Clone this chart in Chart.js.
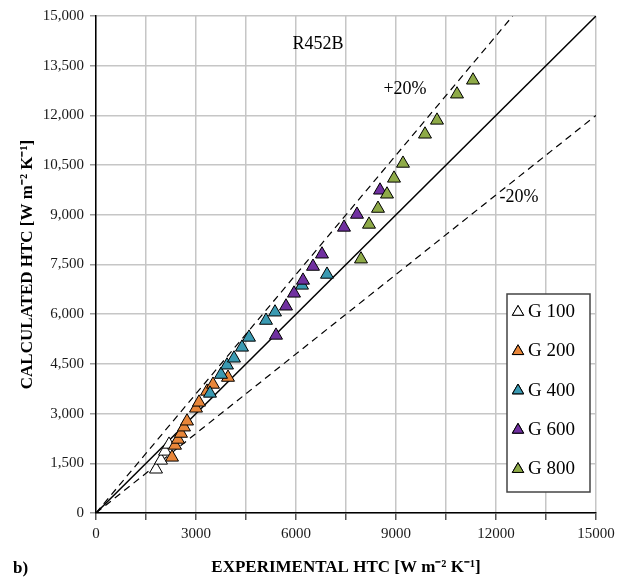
<!DOCTYPE html>
<html>
<head>
<meta charset="utf-8">
<script src="https://cdn.jsdelivr.net/npm/chart.js@4.4.1/dist/chart.umd.min.js"></script>
<style>
  html, body { margin: 0; padding: 0; background: #fff; }
  #wrap { width: 640px; height: 586px; position: relative; }
</style>
</head>
<body>
<div id="wrap"><canvas id="chart"></canvas></div>
<script>
// experimental HTC (x) vs calculated HTC (y), W m-2 K-1
const g100x = [1800, 1950, 2070, 2190];
const g100y = [1320, 1590, 1860, 2070];
const g200x = [2280, 2370, 2460, 2550, 2640, 2730, 3000, 3090, 3330, 3510, 3960];
const g200y = [1680, 2040, 2220, 2400, 2590, 2770, 3160, 3340, 3670, 3880, 4090];
const g400x = [3420, 3750, 3930, 4140, 4380, 4590, 5100, 5370, 6180, 6930];
const g400y = [3610, 4180, 4460, 4670, 5000, 5300, 5810, 6060, 6870, 7200];
const g600x = [5400, 5700, 5940, 6210, 6510, 6780, 7440, 7830, 8520];
const g600y = [5360, 6240, 6630, 7020, 7440, 7810, 8620, 9010, 9740];
const g800x = [7950, 8190, 8460, 8730, 8940, 9210, 9870, 10230, 10830, 11310];
const g800y = [7660, 8710, 9190, 9620, 10100, 10550, 11430, 11850, 12640, 13060];

const seriesNames = ["G 100", "G 200", "G 400", "G 600", "G 800"];
const seriesColors = ["#ffffff", "#e8863a", "#3a9ab2", "#7030a0", "#8eaa48"];

const axisMax = 15000;
const yTicks = [0, 1500, 3000, 4500, 6000, 7500, 9000, 10500, 12000, 13500, 15000];

function pairs(xs, ys) {
    return xs.map((x, i) => ({ x: x, y: ys[i] }));
}

const pointSets = [pairs(g100x, g100y), pairs(g200x, g200y), pairs(g400x, g400y), pairs(g600x, g600y), pairs(g800x, g800y)];

const datasets = pointSets.map((d, i) => ({
    label: seriesNames[i],
    data: d,
    backgroundColor: seriesColors[i],
    borderColor: "#000",
    borderWidth: 1,
    pointStyle: "triangle",
    pointRadius: 7.5,
    order: 5 - i
}));

// y = x and +/-20% bands
datasets.push({
    label: "line",
    data: [{ x: 0, y: 0 }, { x: axisMax, y: axisMax }],
    showLine: true, borderColor: "#000", borderWidth: 1.5, pointRadius: 0, order: 10
});
datasets.push({
    label: "+20",
    data: [{ x: 0, y: 0 }, { x: axisMax / 1.2, y: axisMax }],
    showLine: true, borderColor: "#000", borderWidth: 1.2, borderDash: [7, 5], pointRadius: 0, order: 10
});
datasets.push({
    label: "-20",
    data: [{ x: 0, y: 0 }, { x: axisMax, y: axisMax * 0.8 }],
    showLine: true, borderColor: "#000", borderWidth: 1.2, borderDash: [7, 5], pointRadius: 0, order: 10
});

const serif = "'Liberation Serif', 'Times New Roman', serif";

// text labels + legend box drawn on top
const extras = {
    id: "extras",
    afterDraw(chart) {
        const ctx = chart.ctx;
        const xs = chart.scales.x, ys = chart.scales.y;
        const area = chart.chartArea;
        ctx.save();
        ctx.fillStyle = "#000";
        ctx.textAlign = "center";
        ctx.textBaseline = "middle";
        ctx.font = "18px " + serif;
        ctx.fillText("R452B", xs.getPixelForValue(6660), ys.getPixelForValue(14150));
        ctx.fillText("+20%", xs.getPixelForValue(9270), ys.getPixelForValue(12800));
        ctx.fillText("-20%", xs.getPixelForValue(12690), ys.getPixelForValue(9540));
        ctx.font = "bold 17px " + serif;
        ctx.textAlign = "left";
        ctx.fillText("b)", 13, 569);

        // legend
        const bx = area.right - 89, by = area.top + 278, bw = 83, bh = 198;
        ctx.fillStyle = "#fff";
        ctx.fillRect(bx, by, bw, bh);
        ctx.strokeStyle = "#444";
        ctx.lineWidth = 1.5;
        ctx.strokeRect(bx, by, bw, bh);
        ctx.font = "19px " + serif;
        ctx.textAlign = "left";
        ctx.textBaseline = "middle";
        let row = 0;
        chart.data.datasets.forEach(ds => {
            if (ds.pointStyle !== "triangle") return;
            const cy = by + 17 + row * 39.3;
            ctx.fillStyle = ds.backgroundColor;
            ctx.strokeStyle = "#000";
            ctx.lineWidth = 1;
            Chart.helpers.drawPoint(ctx, { pointStyle: "triangle", radius: 6.5, borderWidth: 1 }, bx + 11, cy + 1);
            ctx.fill();
            ctx.stroke();
            ctx.fillStyle = "#000";
            ctx.fillText(ds.label, bx + 21, cy + 1);
            row++;
        });
        ctx.restore();
    }
};

new Chart(document.getElementById("chart"), {
    type: "scatter",
    data: { datasets: datasets },
    options: {
        responsive: true,
        maintainAspectRatio: false,
        animation: false,
        layout: { padding: { top: 16, right: 44, left: 0, bottom: 0 } },
        plugins: {
            legend: { display: false },
            tooltip: { enabled: false }
        },
        scales: {
            x: {
                type: "linear",
                min: 0, max: axisMax,
                afterFit: s => { s.height = 73; },
                ticks: {
                    stepSize: 1500,
                    autoSkip: false,
                    maxRotation: 0,
                    padding: 5,
                    color: "#1a1a1a",
                    font: { family: serif, size: 15 },
                    callback: v => (v % 3000 === 0 ? String(v) : "")
                },
                grid: { color: "#c6c6c6", lineWidth: 1.5, tickColor: "#555", tickLength: 7 },
                border: { color: "#000", width: 1.5 },
                title: {
                    display: true,
                    text: "EXPERIMENTAL HTC [W m\u207B\u00B2 K\u207B\u00B9]",
                    color: "#000",
                    font: { family: serif, size: 17, weight: "bold" },
                    padding: { top: 0, bottom: 8 }
                }
            },
            y: {
                type: "linear",
                min: 0, max: axisMax,
                afterFit: s => { s.width = 96; },
                afterBuildTicks: s => { s.ticks = yTicks.map(v => ({ value: v })); },
                ticks: {
                    padding: 6,
                    color: "#1a1a1a",
                    font: { family: serif, size: 15 },
                    callback: v => v.toLocaleString("en-US")
                },
                grid: { color: "#c6c6c6", lineWidth: 1.5, tickColor: "#999", tickLength: 6 },
                border: { color: "#000", width: 1.5 },
                title: {
                    display: true,
                    text: "CALCULATED HTC [W m\u207B\u00B2 K\u207B\u00B9]",
                    color: "#000",
                    font: { family: serif, size: 17, weight: "bold" },
                    padding: { top: 17, bottom: 0 }
                }
            }
        }
    },
    plugins: [extras]
});
</script>
</body>
</html>
